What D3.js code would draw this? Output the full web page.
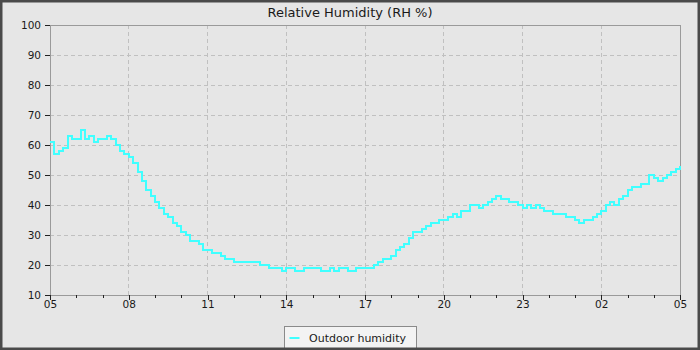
<!DOCTYPE html>
<html>
<head>
<meta charset="utf-8">
<script src="https://cdn.jsdelivr.net/npm/d3@7"></script>
<style>
  body { margin: 0; background: #e6e6e6; }
  svg { display: block; }
  text { font-family: "DejaVu Sans", sans-serif; fill: #1a1a1a; }
</style>
</head>
<body>
<svg id="chart" width="700" height="350"></svg>
<script>
// ---- data ----------------------------------------------------------------
const chartTitle = "Relative Humidity (RH %)";
const seriesName = "Outdoor humidity";
const startTime = "2024-06-01T05:00";   // first reading
const intervalMinutes = 10;             // logger interval
// relative humidity readings, %
const humidity = [
  61, 57, 58, 59, 63, 62, 62, 65, 62, 63, 61, 62, 62, 63, 62, 60, 58, 57,   // 05:00 - 07:50
  56, 54, 51, 48, 45, 43, 41, 39, 37, 36, 34, 33, 31, 30, 28, 28, 27, 25,   // 08:00 - 10:50
  25, 24, 24, 23, 22, 22, 21, 21, 21, 21, 21, 21, 20, 20, 19, 19, 19, 18,   // 11:00 - 13:50
  19, 19, 18, 18, 19, 19, 19, 19, 18, 18, 19, 18, 19, 19, 18, 18, 19, 19,   // 14:00 - 16:50
  19, 19, 20, 21, 22, 22, 23, 25, 26, 27, 29, 31, 31, 32, 33, 34, 34, 35,   // 17:00 - 19:50
  35, 36, 37, 36, 38, 38, 40, 40, 39, 40, 41, 42, 43, 42, 42, 41, 41, 40,   // 20:00 - 22:50
  39, 40, 39, 40, 39, 38, 38, 37, 37, 37, 36, 36, 35, 34, 35, 35, 36, 37,   // 23:00 - 01:50
  38, 40, 41, 40, 42, 43, 45, 46, 46, 47, 47, 50, 49, 48, 49, 50, 51, 52,   // 02:00 - 04:50
  53                                                                        // 05:00
];
const yTickValues = [10, 20, 30, 40, 50, 60, 70, 80, 90, 100];
const xTickLabels = ["05", "08", "11", "14", "17", "20", "23", "02", "05"];

// ---- layout --------------------------------------------------------------
const W = 700, H = 350;
const plot = { left: 50, top: 25, right: 680, bottom: 295 };

const svg = d3.select("#chart");

const t0 = d3.timeParse("%Y-%m-%dT%H:%M")(startTime);
const points = humidity.map((v, i) => ({ t: d3.timeMinute.offset(t0, i * intervalMinutes), v }));
const t1 = points[points.length - 1].t;

const x = d3.scaleTime().domain([t0, t1]).range([plot.left, plot.right]);
const y = d3.scaleLinear().domain([10, 100]).range([plot.bottom, plot.top]);

svg.append("rect").attr("x", 0).attr("y", 0).attr("width", W).attr("height", H).attr("fill", "#e6e6e6");

// title
svg.append("text")
  .attr("x", W / 2).attr("y", 17)
  .attr("text-anchor", "middle")
  .style("font-size", "13px")
  .text(chartTitle);

// every third hour counted from the first reading
const stop = d3.timeMinute.offset(t1, 1);
const majorHours = d3.timeHour.range(t0, stop, 3);
const minorHours = d3.timeHour.range(t0, stop, 1);

// grid
const grid = svg.append("g").attr("stroke", "#c0c0c0").attr("stroke-dasharray", "4,3").attr("shape-rendering", "crispEdges");
grid.selectAll("line.h").data(yTickValues.slice(1, -1)).join("line")
  .attr("x1", plot.left).attr("x2", plot.right)
  .attr("y1", d => y(d)).attr("y2", d => y(d));
grid.selectAll("line.v").data(majorHours.slice(1, -1)).join("line")
  .attr("y1", plot.top).attr("y2", plot.bottom)
  .attr("x1", d => x(d)).attr("x2", d => x(d));

// plot border
svg.append("rect")
  .attr("x", plot.left + 0.5).attr("y", plot.top + 0.5)
  .attr("width", plot.right - plot.left).attr("height", plot.bottom - plot.top)
  .attr("fill", "none").attr("stroke", "#9a9a9a");

// y axis
const yAxis = svg.append("g")
  .attr("transform", `translate(${plot.left},0)`)
  .call(d3.axisLeft(y).tickValues(yTickValues).tickSize(5).tickPadding(4).tickFormat(d3.format("d")));
yAxis.select(".domain").remove();
yAxis.selectAll(".tick line").attr("stroke", "#222").attr("shape-rendering", "crispEdges");
yAxis.selectAll("text").style("font-size", "10.5px").style("font-family", "DejaVu Sans").attr("fill", "#1a1a1a");

// x axis: hourly minor ticks, 3-hourly labelled ticks
const xMinor = svg.append("g")
  .attr("transform", `translate(0,${plot.bottom})`)
  .call(d3.axisBottom(x).tickValues(minorHours).tickSize(3).tickFormat(""));
xMinor.select(".domain").remove();
xMinor.selectAll(".tick line").attr("stroke", "#222").attr("shape-rendering", "crispEdges");

const xAxis = svg.append("g")
  .attr("transform", `translate(0,${plot.bottom})`)
  .call(d3.axisBottom(x).tickValues(majorHours).tickSize(5).tickPadding(1)
    .tickFormat((d, i) => xTickLabels[i]));
xAxis.select(".domain").remove();
xAxis.selectAll(".tick line").attr("stroke", "#222").attr("shape-rendering", "crispEdges");
xAxis.selectAll("text").style("font-size", "10.5px").style("font-family", "DejaVu Sans").attr("fill", "#1a1a1a");

// humidity line
const line = d3.line()
  .x(d => x(d.t))
  .y(d => y(d.v))
  .curve(d3.curveStepAfter);
svg.append("path")
  .datum(points)
  .attr("d", line)
  .attr("fill", "none")
  .attr("stroke", "#40ffff")
  .attr("stroke-width", 2)
  .attr("shape-rendering", "crispEdges");

// legend
const lg = svg.append("g").attr("transform", "translate(284.5,326.5)");
lg.append("rect").attr("width", 132).attr("height", 22).attr("fill", "#f3f3f3").attr("stroke", "#8a8a8a");
lg.append("line").attr("x1", 5).attr("x2", 15).attr("y1", 11.5).attr("y2", 11.5)
  .attr("stroke", "#40ffff").attr("stroke-width", 2);
lg.append("text").attr("x", 24.5).attr("y", 15).style("font-size", "11px").text(seriesName);

// outer frame
svg.append("rect")
  .attr("x", 1.25).attr("y", 1.25).attr("width", W - 2.5).attr("height", H - 2.5)
  .attr("fill", "none").attr("stroke", "#4a4a4a").attr("stroke-width", 2.5);
</script>
</body>
</html>
